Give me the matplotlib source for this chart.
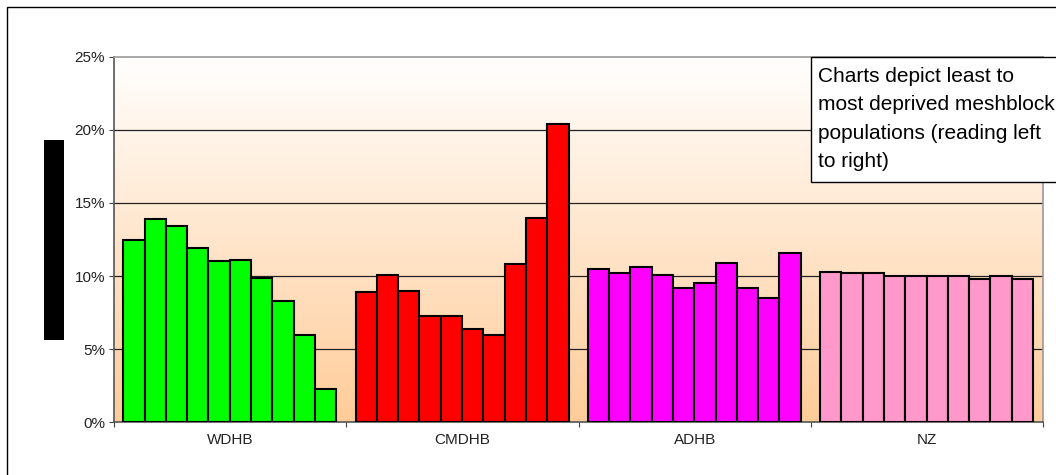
import numpy as np
import matplotlib
matplotlib.use("Agg")
import matplotlib.pyplot as plt
from matplotlib.patches import Rectangle
from matplotlib.colors import LinearSegmentedColormap

plt.rcParams['font.family'] = ['Liberation Sans', 'DejaVu Sans']

# share of population by deprivation decile (least -> most deprived)
groups = ['WDHB', 'CMDHB', 'ADHB', 'NZ']
wdhb = [12.5, 13.9, 13.4, 11.9, 11.0, 11.1, 9.9, 8.3, 6.0, 2.3]
cmdhb = [8.9, 10.1, 9.0, 7.3, 7.3, 6.4, 6.0, 10.8, 14.0, 20.4]
adhb = [10.5, 10.2, 10.6, 10.1, 9.2, 9.5, 10.9, 9.2, 8.5, 11.6]
nz = [10.3, 10.2, 10.2, 10.0, 10.0, 10.0, 10.0, 9.8, 10.0, 9.8]
colors = ['#00FF00', '#FF0000', '#FF00FF', '#FF99CC']
yticks = [0, 5, 10, 15, 20, 25]
note = "Charts depict least to\nmost deprived meshblock\npopulations (reading left\nto right)"

W, H = 1056, 475
fig = plt.figure(figsize=(W / 100, H / 100), dpi=100)
ax = fig.add_axes([114 / W, 1 - 422.3 / H, (1043 - 114) / W, (422.3 - 56.7) / H])

# gradient background of the plot area
cmap = LinearSegmentedColormap.from_list('bg', ['#FFCC99', '#FFFFFF'])
grad = np.linspace(0, 1, 256).reshape(-1, 1)
ax.imshow(grad, cmap=cmap, aspect='auto', extent=[0, 4, 0, 25], origin='lower', zorder=0)

nbar = 10
bw = 0.0917
start = 0.04
for g, vals in enumerate([wdhb, cmdhb, adhb, nz]):
    xs = g + start + bw * (np.arange(nbar) + 0.5)
    ax.bar(xs, vals, width=bw, color=colors[g], edgecolor='black', linewidth=1.5, zorder=3)

for y in yticks[1:-1]:
    ax.axhline(y, color='#222222', linewidth=0.9, zorder=1)

ax.set_xlim(0, 4)
ax.set_ylim(0, 25)
ax.set_yticks(yticks)
ax.set_yticklabels([f'{v}%' for v in yticks], fontsize=11, color='#222222')
ax.set_xticks(range(5))
ax.set_xticklabels([])
ax.set_xticks([0.5, 1.5, 2.5, 3.5], minor=True)
ax.set_xticklabels(groups, minor=True, fontsize=11, color='#222222')
ax.tick_params(axis='x', which='minor', length=0, pad=8)
ax.tick_params(axis='x', which='major', length=3.5, width=0.8, color='#444444')
ax.tick_params(axis='y', length=3.5, width=0.8, pad=3, color='#444444')

for s in ['top', 'right']:
    ax.spines[s].set_color('#999999')
    ax.spines[s].set_linewidth(1.2)
for s in ['left', 'bottom']:
    ax.spines[s].set_color('#555555')
    ax.spines[s].set_linewidth(1.2)

# outer chart border (right and bottom are cut off in the source)
fig.add_artist(Rectangle((7 / W, -0.1), 1.2, 1 - 7 / H + 0.1, transform=fig.transFigure,
                         fill=False, edgecolor='black', linewidth=1.0))

# redacted y-axis title
fig.add_artist(Rectangle((44 / W, 1 - 340 / H), 20 / W, 200 / H, transform=fig.transFigure,
                         facecolor='black', edgecolor='none'))

# note box
fig.add_artist(Rectangle((810.7 / W, 1 - 181.7 / H), 0.3, (181.7 - 57.3) / H,
                         transform=fig.transFigure, facecolor='white',
                         edgecolor='black', linewidth=1.0, zorder=5))
fig.text(818 / W, 1 - 67 / H, note, fontsize=15, va='top', ha='left',
         linespacing=1.62, color='black', zorder=6)

fig.savefig('out.png', dpi=100)
